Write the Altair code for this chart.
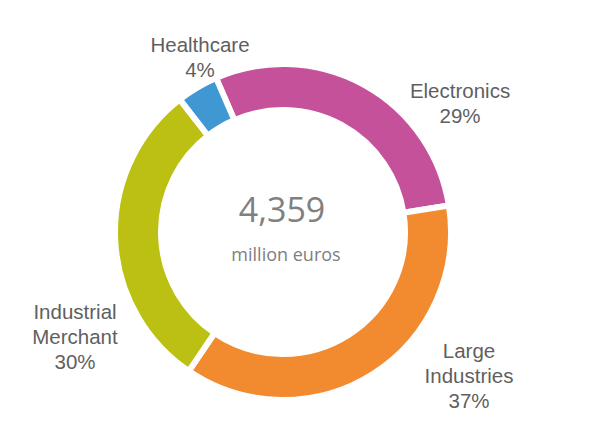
import altair as alt
import pandas as pd

segments = ["Electronics", "Large Industries", "Industrial Merchant", "Healthcare"]
shares = [29, 37, 30, 4]
colors = ["#c6519b", "#f28a30", "#bcc012", "#3f98d2"]
order = [1, 2, 3, 4]

label_lines = [["Healthcare", "4%"], ["Electronics", "29%"],
               ["Large", "Industries", "37%"], ["Industrial", "Merchant", "30%"]]
total_text = "4,359"
unit_text = "million euros"

df = pd.DataFrame({"segment": segments, "share": shares, "order": order})

start = -0.41
CX, CY = 275, 224

arc = alt.Chart(df).mark_arc(outerRadius=168, innerRadius=122, stroke="white", strokeWidth=6).encode(
    theta=alt.Theta("share:Q", stack=True, scale=alt.Scale(range=[start, start + 2 * 3.14159265])),
    color=alt.Color("segment:N", scale=alt.Scale(domain=segments, range=colors), legend=None),
    order=alt.Order("order:Q"),
    x=alt.value(CX), y=alt.value(CY),
)

def label(lines, x, y, size=20.5, color="#5f5f5f", font="Liberation Sans", lh=25):
    return alt.Chart(pd.DataFrame({"t": [lines]})).mark_text(
        fontSize=size, color=color, font=font, align="center", baseline="middle", lineHeight=lh
    ).encode(text="t", x=alt.value(x), y=alt.value(y))

layers = [arc,
          label(label_lines[0], 192, 38),
          label(label_lines[1], 452, 84),
          label(label_lines[2], 461, 344),
          label(label_lines[3], 67, 305),
          label([total_text], 274, 204, size=34, color="#808080", font="Open Sans"),
          label([unit_text], 278, 248, size=18, color="#808080", font="Open Sans")]

chart = alt.layer(*layers).properties(width=579, height=408, padding=0).configure_view(stroke=None)
chart.save("out.html", embed_options={"renderer": "svg", "actions": False})
